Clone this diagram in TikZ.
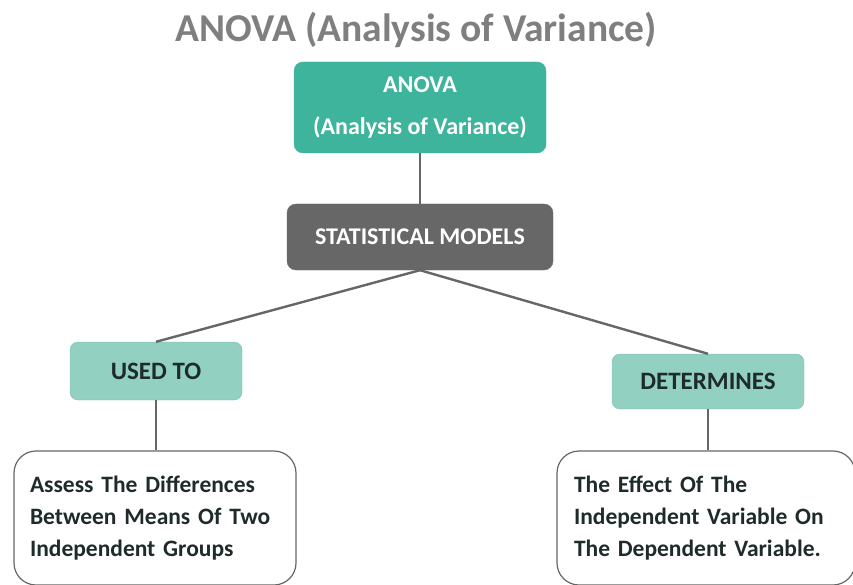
\documentclass[tikz,border=0pt]{standalone}
\usepackage{fontspec}
\setmainfont{Carlito}
\usetikzlibrary{positioning}
\definecolor{titlegray}{HTML}{7F7F7F}
\definecolor{tealdark}{HTML}{3DB49B}
\definecolor{teallight}{HTML}{92D1C2}
\definecolor{tealedge}{HTML}{7DBFB0}
\definecolor{boxgray}{HTML}{676767}
\definecolor{linegray}{HTML}{666666}
\definecolor{textdark}{HTML}{1F2B2B}
\tikzset{
  topbox/.style={draw=tealdark, fill=tealdark, rounded corners=9pt, text=white,
    font=\bfseries\fontsize{24}{42}\selectfont, align=center, inner sep=0pt},
  statbox/.style={draw=boxgray, fill=boxgray, rounded corners=9pt, text=white,
    font=\bfseries\fontsize{24}{28}\selectfont, align=center, inner sep=0pt},
  midbox/.style={draw=tealedge, fill=teallight, rounded corners=8pt, text=textdark,
    font=\bfseries\fontsize{25}{28}\selectfont, align=center, inner sep=0pt},
  leafbox/.style={draw=linegray, line width=1.2pt, fill=white, rounded corners=22pt, text=textdark,
    font=\bfseries\fontsize{23.5}{32}\selectfont, align=left, inner xsep=16pt, inner ysep=0pt},
  conn/.style={draw=linegray, line width=2.4pt}
}
\begin{document}
\begin{tikzpicture}[x=1pt,y=-1pt]
\useasboundingbox (0,0) rectangle (853,585);
% title
\node[text=titlegray, font=\bfseries\fontsize{39.5}{44}\selectfont] (title) at (416,30) {ANOVA (Analysis of Variance)};
% boxes
\node[topbox, minimum width=252pt, minimum height=91pt] (anova) at (420,107.5) {ANOVA\\(Analysis of Variance)};
\node[statbox, minimum width=266pt, minimum height=66pt] (stat) at (420,237) {STATISTICAL MODELS};
\node[midbox, minimum width=172pt, minimum height=58pt] (used) at (156,371) {USED TO};
\node[midbox, minimum width=192pt, minimum height=55pt] (det) at (708,381.5) {DETERMINES};
\node[leafbox, minimum width=282pt, minimum height=134pt, text width=250pt] (assess) at (155,518)
  {Assess The Differences\\Between Means Of Two\\Independent Groups};
\node[leafbox, minimum width=296pt, minimum height=134pt, text width=264pt, inner xsep=17pt] (effect) at (706,518)
  {The Effect Of The\\Independent Variable On\\The Dependent Variable.};
% connectors
\draw[conn] (anova.south) -- (stat.north);
\draw[conn] (stat.south) -- (used.north);
\draw[conn] (stat.south) -- (det.north);
\draw[conn] (used.south) -- (assess.north -| used.south);
\draw[conn] (det.south) -- (effect.north -| det.south);
\end{tikzpicture}
\end{document}
